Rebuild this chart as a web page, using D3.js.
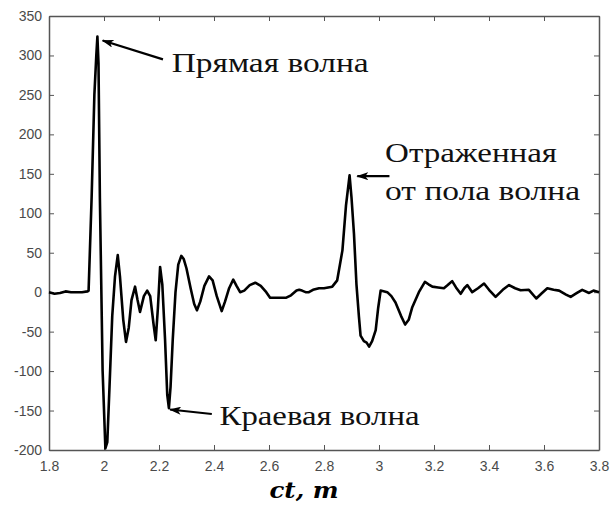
<!DOCTYPE html>
<html>
<head>
<meta charset="utf-8">
<script src="https://cdn.jsdelivr.net/npm/d3@7"></script>
<style>
  body { margin: 0; background: #fff; }
  .tick text { font-family: "Liberation Sans", Arial, sans-serif; font-size: 14px; fill: #4a4a4a; }
  .axis path, .axis line { stroke: #555; }
</style>
</head>
<body>
<svg id="container"></svg>
<script>
// ct, m
var ctValues = [1.80,1.81,1.82,1.84,1.86,1.88,1.90,1.92,1.94,1.944,1.955,1.965,1.972,1.976,1.980,1.985,1.995,2.005,2.012,2.02,2.03,2.04,2.05,2.058,2.07,2.08,2.09,2.10,2.113,2.122,2.131,2.145,2.157,2.168,2.18,2.188,2.196,2.204,2.212,2.222,2.23,2.236,2.242,2.25,2.26,2.27,2.281,2.29,2.30,2.315,2.328,2.338,2.35,2.365,2.382,2.395,2.41,2.428,2.44,2.455,2.470,2.482,2.495,2.51,2.53,2.55,2.57,2.59,2.604,2.63,2.663,2.68,2.70,2.71,2.72,2.733,2.745,2.76,2.782,2.80,2.83,2.848,2.867,2.88,2.893,2.90,2.909,2.918,2.927,2.933,2.945,2.955,2.964,2.975,2.988,2.997,3.006,3.03,3.045,3.06,3.08,3.095,3.108,3.121,3.145,3.167,3.18,3.194,3.215,3.236,3.25,3.266,3.28,3.297,3.31,3.321,3.339,3.36,3.382,3.40,3.424,3.45,3.473,3.495,3.515,3.545,3.572,3.59,3.612,3.635,3.655,3.68,3.697,3.72,3.739,3.764,3.78,3.80];
// signal amplitude
var ampValues = [0,-1,-2,-1,1,0,0,0,1,2,120,250,300,324,290,120,-100,-198,-190,-120,-30,20,47,20,-35,-63,-45,-10,7,-10,-25,-5,2,-5,-40,-61,-20,32,10,-60,-130,-147,-120,-60,0,35,46,42,30,5,-15,-23,-12,8,20,15,-5,-24,-12,5,16,8,0,2,9,12,8,0,-7,-7,-7,-4,2,3,2,0,0,3,5,5,7,15,53,110,148,120,74,10,-31,-55,-62,-64,-69,-62,-48,-20,2,0,-5,-13,-30,-41,-35,-19,0,13,10,7,6,5,9,14,6,-2,5,9,0,5,11,3,-6,3,9,5,2.5,3,-8,-2,5,3,2,-3,-6,-1,3,-1,2,0];

var xTicks = [1.8,2,2.2,2.4,2.6,2.8,3,3.2,3.4,3.6,3.8];
var xTickLabels = ["1.8","2","2.2","2.4","2.6","2.8","3","3.2","3.4","3.6","3.8"];
var yTicks = [-200,-150,-100,-50,0,50,100,150,200,250,300,350];
var yTickLabels = ["-200","-150","-100","-50","0","50","100","150","200","250","300","350"];

// annotations: arrow tip / tail and text anchor, in data units
var noteLines = [["Прямая волна"], ["Краевая волна"], ["Отраженная", "от пола волна"]];
var noteTip = [[1.995, 319], [2.24, -148.7], [2.921, 147]];
var noteTail = [[2.2145, 295], [2.392, -154.4], [3.038, 147]];
var noteText = [[2.246, 279], [2.42, -168.6], [3.022, 165]];
var noteWidth = [[197], [200], [172, 195]];

const margin = {top: 16, right: 14, bottom: 57, left: 49},
      W = 613, H = 507,
      w = W - margin.left - margin.right,
      h = H - margin.top - margin.bottom;

var root = d3.select("#container").attr("width", W).attr("height", H);

root.append("defs").append("marker")
    .attr("id", "arrow")
    .attr("viewBox", "0 0 12 8")
    .attr("refX", 11).attr("refY", 4)
    .attr("markerWidth", 12).attr("markerHeight", 8)
    .attr("markerUnits", "userSpaceOnUse")
    .attr("orient", "auto")
    .append("path")
    .attr("d", "M0,0 L12,4 L0,8 L3,4 Z")
    .attr("fill", "#000");

var svg = root.append("g")
    .attr("transform", "translate(" + margin.left + "," + margin.top + ")");

var xScale = d3.scaleLinear().domain([1.8, 3.8]).range([0, w]);
var yScale = d3.scaleLinear().domain([-200, 350]).range([h, 0]);

// axes, matlab style: box with inward ticks
svg.append("g").attr("class", "axis")
    .attr("transform", "translate(0," + h + ")")
    .call(d3.axisBottom(xScale).tickValues(xTicks)
        .tickFormat((d, i) => xTickLabels[i])
        .tickSizeInner(-5).tickSizeOuter(0).tickPadding(11));
svg.append("g").attr("class", "axis")
    .call(d3.axisTop(xScale).tickValues(xTicks).tickFormat("")
        .tickSizeInner(-5).tickSizeOuter(0));
svg.append("g").attr("class", "axis")
    .call(d3.axisLeft(yScale).tickValues(yTicks)
        .tickFormat((d, i) => yTickLabels[i])
        .tickSizeInner(-5).tickSizeOuter(0).tickPadding(7));
svg.append("g").attr("class", "axis")
    .attr("transform", "translate(" + w + ",0)")
    .call(d3.axisRight(yScale).tickValues(yTicks).tickFormat("")
        .tickSizeInner(-5).tickSizeOuter(0));
svg.selectAll(".axis path").attr("stroke-width", 1.5);

// signal
var points = ctValues.map((d, i) => [d, ampValues[i]]);
svg.append("path")
    .datum(points)
    .attr("fill", "none")
    .attr("stroke", "#000")
    .attr("stroke-width", 2.6)
    .attr("stroke-linejoin", "round")
    .attr("d", d3.line().x(d => xScale(d[0])).y(d => yScale(d[1])));

// annotations
noteLines.forEach((lines, i) => {
    svg.append("line")
        .attr("x1", xScale(noteTail[i][0])).attr("y1", yScale(noteTail[i][1]))
        .attr("x2", xScale(noteTip[i][0])).attr("y2", yScale(noteTip[i][1]))
        .attr("stroke", "#000").attr("stroke-width", 2.2)
        .attr("marker-end", "url(#arrow)");
    lines.forEach((t, j) => {
        svg.append("text")
            .attr("x", xScale(noteText[i][0]))
            .attr("y", yScale(noteText[i][1]) + j * 38.3)
            .attr("font-family", "'Liberation Serif', 'Times New Roman', serif")
            .attr("font-size", 27)
            .attr("textLength", noteWidth[i][j])
            .attr("lengthAdjust", "spacingAndGlyphs")
            .attr("fill", "#111")
            .text(t);
    });
});

// x axis title
root.append("text")
    .attr("x", 304).attr("y", 498)
    .attr("text-anchor", "middle")
    .attr("font-family", "'DejaVu Serif', serif")
    .attr("font-weight", "bold")
    .attr("font-style", "italic")
    .attr("font-size", 23)
    .attr("textLength", 69)
    .attr("lengthAdjust", "spacingAndGlyphs")
    .text("ct, m");
</script>
</body>
</html>
